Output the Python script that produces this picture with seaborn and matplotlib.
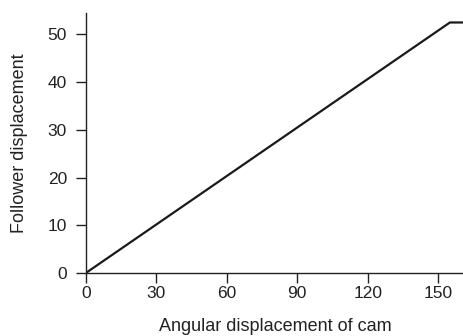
import pandas as pd
import matplotlib.pyplot as plt
import seaborn as sns

# cam follower displacement diagram
angle = [0, 155, 161]
displacement = [0, 52.5, 52.5]

df = pd.DataFrame({"angle": angle, "displacement": displacement})

sns.set_style("ticks")
plt.rcParams['font.family'] = ['Liberation Sans', 'DejaVu Sans']

fig = plt.figure(figsize=(4.64, 3.36), dpi=100)
ax = fig.add_axes([0.185, 0.1875, 0.815, 0.774])
sns.lineplot(x="angle", y="displacement", data=df, color="#1a1a1a", linewidth=1.6, ax=ax)

ax.set_xlim(0, 161)
ax.set_ylim(0, 54.5)
ax.set_xticks([0, 30, 60, 90, 120, 150])
ax.set_yticks([0, 10, 20, 30, 40, 50])
ax.tick_params(labelsize=12.5, length=7.5, width=1, color="#222222", labelcolor="#222222")
ax.tick_params(axis="x", pad=1.5)
ax.tick_params(axis="y", pad=6)
ax.set_xlabel("Angular displacement of cam", fontsize=13, color="#222222")
ax.set_ylabel("Follower displacement", fontsize=13, color="#222222")
ax.xaxis.set_label_coords(0.5, -0.172)
ax.yaxis.set_label_coords(-0.153, 0.5)
for s in ["left", "bottom"]:
    ax.spines[s].set_color("#222222")
    ax.spines[s].set_linewidth(1)
sns.despine(ax=ax)

fig.savefig("out.png", dpi=100)
